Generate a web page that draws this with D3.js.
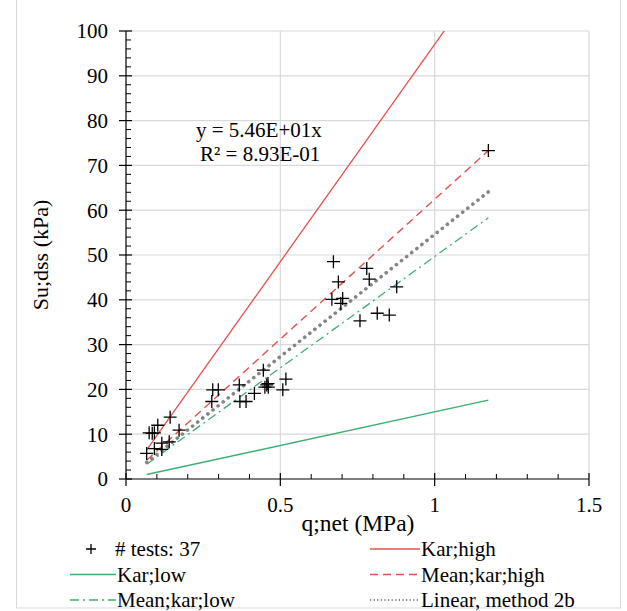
<!DOCTYPE html>
<html><head><meta charset="utf-8">
<script src="https://cdn.jsdelivr.net/npm/d3@7"></script>
<style>
html,body{margin:0;padding:0;background:#fff;}
text{font-family:"Liberation Serif","Times New Roman",serif;fill:#000;}
</style></head>
<body>
<svg id="chart" width="627" height="611"></svg>
<script>
// ---- data ----
const testQnet = [0.672,0.780,0.688,0.788,0.667,0.702,0.696,0.877,0.758,0.814,0.853,1.174,
  0.445,0.518,0.367,0.456,0.461,0.450,0.460,0.281,0.299,0.508,0.416,0.278,0.369,0.389,
  0.143,0.103,0.172,0.075,0.085,0.092,0.140,0.116,0.092,0.116,0.067];
const testSu = [48.5,47.0,44.0,44.6,40.1,40.3,39.2,42.9,35.3,37.0,36.6,73.3,
  24.3,22.3,21.0,21.0,20.5,20.5,21.3,19.9,19.9,19.9,19.1,17.3,17.3,17.3,
  13.8,12.0,10.9,10.3,10.2,10.3,8.3,8.0,6.8,6.6,5.7];
const lineQnet = [0.067, 1.174];
const karHigh = [6.5, 113.9];
const karLow = [1.0, 17.6];
const meanKarHigh = [4.2, 73.3];
const meanKarLow = [3.3, 58.3];
const linear2b = [3.7, 64.1];
const xTicks = [0, 0.5, 1, 1.5];
const xTickLabels = ["0", "0.5", "1", "1.5"];
const yTicks = [0,10,20,30,40,50,60,70,80,90,100];
const equationLines = ["y = 5.46E+01x", "R\u00B2 = 8.93E-01"];
const legendLabels = ["# tests: 37","Kar;high","Kar;low","Mean;kar;high","Mean;kar;low","Linear, method 2b"];

// ---- chart ----
const svg = d3.select("#chart");
const x = d3.scaleLinear().domain([0, 1.5]).range([126, 589]);
const y = d3.scaleLinear().domain([0, 100]).range([479, 31]);

const red = "#e5504f", green = "#3dae73", gray = "#848484", grid = "#d9d9d9";
const FS = 21;

// outer border
svg.append("rect").attr("x", 16.5).attr("y", -2).attr("width", 604).attr("height", 610)
  .attr("fill", "none").attr("stroke", "#d9d9d9").attr("stroke-width", 1);

// gridlines
svg.append("g").selectAll("line").data(yTicks.filter(d => d > 0)).join("line")
  .attr("x1", x(0)).attr("x2", x(1.5)).attr("y1", d => y(d)).attr("y2", d => y(d))
  .attr("stroke", grid).attr("stroke-width", 1.2);
svg.append("g").selectAll("line").data(xTicks.filter(d => d > 0)).join("line")
  .attr("x1", d => x(d)).attr("x2", d => x(d)).attr("y1", y(0)).attr("y2", y(100))
  .attr("stroke", grid).attr("stroke-width", 1.2);

// clip
svg.append("clipPath").attr("id", "clip").append("rect")
  .attr("x", x(0)).attr("y", y(100)).attr("width", x(1.5) - x(0)).attr("height", y(0) - y(100));

const plot = svg.append("g").attr("clip-path", "url(#clip)");
const lineGen = d3.line().x(d => x(d[0])).y(d => y(d[1]));
const mk = arr => lineQnet.map((q, i) => [q, arr[i]]);
const series = [
  {data: karLow, color: green, dash: null, w: 1.4},
  {data: meanKarLow, color: green, dash: "9,4,2,4", w: 1.3},
  {data: linear2b, color: gray, dash: "0.1,6.4", w: 3.6, cap: "round"},
  {data: meanKarHigh, color: red, dash: "8,5", w: 1.4},
  {data: karHigh, color: red, dash: null, w: 1.3}
];
series.forEach(s => {
  plot.append("path").attr("d", lineGen(mk(s.data))).attr("fill", "none")
    .attr("stroke", s.color).attr("stroke-width", s.w)
    .attr("stroke-dasharray", s.dash).attr("stroke-linecap", s.cap || "butt");
});

// markers
const pts = testQnet.map((q, i) => [q, testSu[i]]);
const plus = (g, cx, cy, r) => {
  g.append("path").attr("d", `M${cx - r},${cy}H${cx + r}M${cx},${cy - r}V${cy + r}`)
    .attr("stroke", "#000").attr("stroke-width", 1.3).attr("fill", "none");
};
const mg = svg.append("g");
pts.forEach(p => plus(mg, x(p[0]), y(p[1]), 6.5));

// axes
const axG = svg.append("g").attr("stroke", "#000").attr("stroke-width", 1.2);
axG.append("line").attr("x1", x(0)).attr("x2", x(0)).attr("y1", y(0)).attr("y2", y(100));
axG.append("line").attr("x1", x(0)).attr("x2", x(1.5)).attr("y1", y(0)).attr("y2", y(0));
axG.selectAll(".ymaj").data(yTicks).join("line")
  .attr("x1", x(0) - 7).attr("x2", x(0) + 6).attr("y1", d => y(d)).attr("y2", d => y(d));
axG.selectAll(".ymin").data(d3.range(0, 100, 2).filter(v => v % 10 !== 0)).join("line")
  .attr("x1", x(0)).attr("x2", x(0) + 5).attr("y1", d => y(d)).attr("y2", d => y(d)).attr("stroke-width", 1);
axG.selectAll(".xmaj").data(xTicks).join("line")
  .attr("x1", d => x(d)).attr("x2", d => x(d)).attr("y1", y(0) - 6).attr("y2", y(0) + 7);
axG.selectAll(".xmin").data(d3.range(1, 15).filter(i => i % 5 !== 0).map(i => i / 10)).join("line")
  .attr("x1", d => x(d)).attr("x2", d => x(d)).attr("y1", y(0) - 5).attr("y2", y(0)).attr("stroke-width", 1);

// tick labels
svg.append("g").selectAll("text").data(yTicks).join("text")
  .attr("x", 108).attr("y", d => y(d)).attr("dy", "0.35em").attr("text-anchor", "end")
  .attr("font-size", FS).text(d => d);
svg.append("g").selectAll("text").data(xTicks).join("text")
  .attr("x", d => x(d)).attr("y", 505).attr("dy", "0.35em").attr("text-anchor", "middle")
  .attr("font-size", FS).text((d, i) => xTickLabels[i]);

// axis titles
svg.append("text").attr("x", 358).attr("y", 523).attr("dy", "0.35em").attr("text-anchor", "middle")
  .attr("font-size", 23.5).text("q;net (MPa)");
svg.append("text").attr("transform", "translate(40,255) rotate(-90)").attr("dy", "0.35em")
  .attr("text-anchor", "middle").attr("font-size", 22).text("Su;dss (kPa)");

// equation
svg.append("text").attr("x", 196).attr("y", 130).attr("dy", "0.35em").attr("font-size", FS).text(equationLines[0]);
svg.append("text").attr("x", 200).attr("y", 154).attr("dy", "0.35em").attr("font-size", FS).text(equationLines[1]);

// legend
const lg = svg.append("g");
const rows = [549, 574.5, 600];
const legendItems = [
  {col: 0, row: 0, type: "marker"},
  {col: 1, row: 0, s: series[4]},
  {col: 0, row: 1, s: series[0]},
  {col: 1, row: 1, s: series[3]},
  {col: 0, row: 2, s: series[1]},
  {col: 1, row: 2, s: series[2]}
];
const colX = [[70, 116], [370, 420]];
legendItems.forEach((it, i) => {
  const [x0, x1] = colX[it.col];
  const yy = rows[it.row];
  if (it.type === "marker") {
    plus(lg, 91, yy, 5);
  } else {
    lg.append("line").attr("x1", x0).attr("x2", x1).attr("y1", yy).attr("y2", yy)
      .attr("stroke", it.s.color).attr("stroke-width", it.s.w === 3.6 ? 2.2 : it.s.w)
      .attr("stroke-dasharray", it.s.w === 3.6 ? "1.2,2.4" : it.s.dash);
  }
  lg.append("text").attr("x", it.type === "marker" ? 115 : x1 + 1).attr("y", yy).attr("dy", "0.35em")
    .attr("font-size", FS).text(legendLabels[i]);
});
</script>
</body></html>
